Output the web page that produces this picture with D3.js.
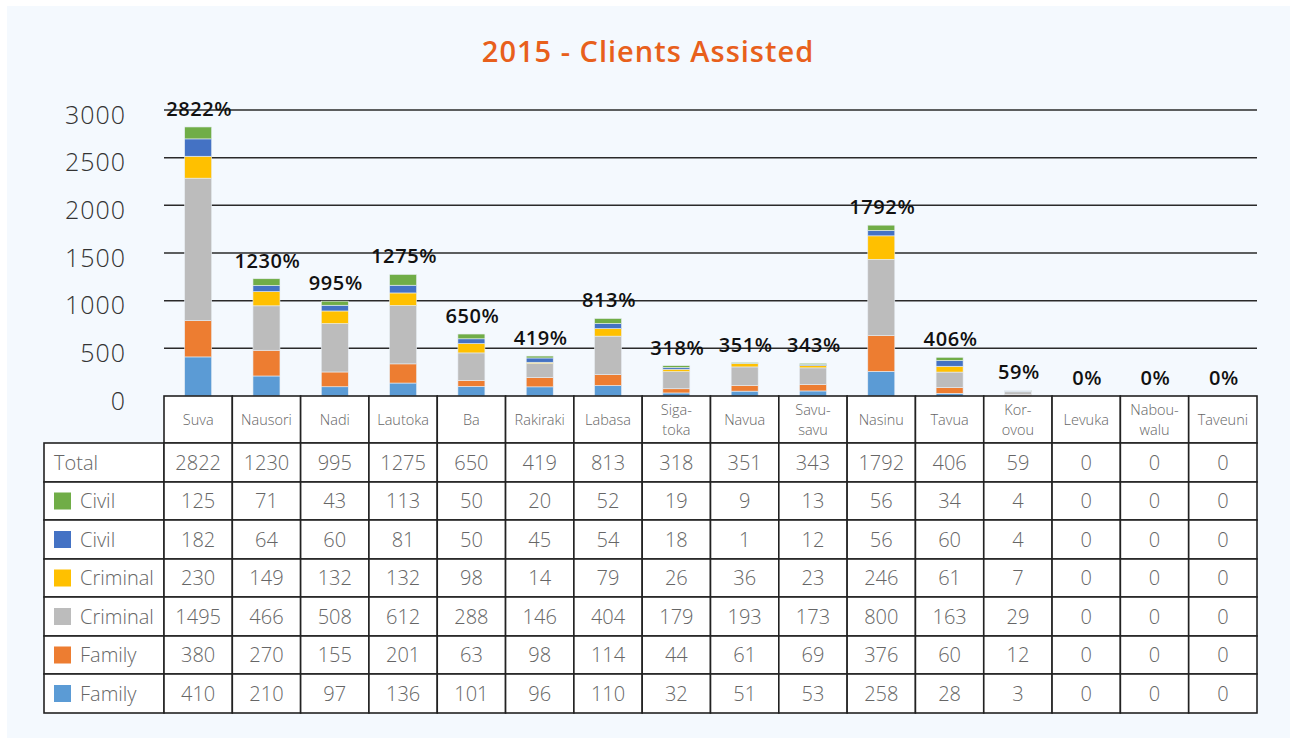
<!DOCTYPE html>
<html><head><meta charset="utf-8">
<script src="https://cdn.jsdelivr.net/npm/d3@7"></script>
<style>
html,body{margin:0;padding:0;background:#fff;}
svg{display:block;}
</style></head>
<body>
<svg id="chart" width="1290" height="738"></svg>
<script>
const title = "2015 - Clients Assisted";
const categories = ["Suva","Nausori","Nadi","Lautoka","Ba","Rakiraki","Labasa","Siga-toka","Navua","Savu-savu","Nasinu","Tavua","Kor-ovou","Levuka","Nabou-walu","Taveuni"];
const totals       = [2822,1230,995,1275,650,419,813,318,351,343,1792,406,59,0,0,0];
const civilGreen   = [125,71,43,113,50,20,52,19,9,13,56,34,4,0,0,0];
const civilBlue    = [182,64,60,81,50,45,54,18,1,12,56,60,4,0,0,0];
const criminalYel  = [230,149,132,132,98,14,79,26,36,23,246,61,7,0,0,0];
const criminalGray = [1495,466,508,612,288,146,404,179,193,173,800,163,29,0,0,0];
const familyOrange = [380,270,155,201,63,98,114,44,61,69,376,60,12,0,0,0];
const familyBlue   = [410,210,97,136,101,96,110,32,51,53,258,28,3,0,0,0];
const seriesNames  = ["Civil","Civil","Criminal","Criminal","Family","Family"];
const seriesColors = ["#70ad47","#4472c4","#ffc000","#bcbcbc","#ed7d31","#5b9bd5"];
const yTicks = [0,500,1000,1500,2000,2500,3000];

const tableSeries = [civilGreen,civilBlue,criminalYel,criminalGray,familyOrange,familyBlue];
const stackOrder = [5,4,3,2,1,0];

const svg = d3.select("#chart");
const W=1290,H=738;
svg.append("rect").attr("width",W).attr("height",H).attr("fill","#ffffff");
svg.append("rect").attr("x",7).attr("y",6).attr("width",W-7).attr("height",H-6).attr("fill","#f4f9fe");

const font = "'Open Sans', sans-serif";
const x0=164,x1=1257, yTop=110, yBase=396;
const x = d3.scaleBand().domain(categories).range([x0,x1]).padding(0);
const y = d3.scaleLinear().domain([0,3000]).range([yBase,yTop]);

svg.append("text").attr("x",648).attr("y",62).attr("text-anchor","middle")
  .attr("font-family",font).attr("font-weight",600).attr("font-size",29)
  .attr("letter-spacing",1).attr("fill","#e8601c").text(title);

svg.append("g").selectAll("line").data(yTicks.filter(d=>d>0)).join("line")
  .attr("x1",x0).attr("x2",x1).attr("y1",d=>y(d)).attr("y2",d=>y(d))
  .attr("stroke","#2a2a2a").attr("stroke-width",1.5);

const yAxis = d3.axisLeft(y).tickValues(yTicks).tickFormat(d3.format("d")).tickSize(0).tickPadding(0);
const ya = svg.append("g").attr("transform","translate(126,5)").call(yAxis);
ya.select(".domain").remove();
ya.selectAll("text").attr("font-family",font).attr("font-weight",300)
  .attr("font-size",25).attr("letter-spacing",1).attr("fill","#333").attr("dy","0.32em");

const bw = 27;
categories.forEach((c,i)=>{
  let acc=0;
  stackOrder.forEach(s=>{
    const v=tableSeries[s][i];
    if(v>0){
      svg.append("rect").attr("x",x(c)+x.bandwidth()/2-bw/2).attr("width",bw)
        .attr("y",y(acc+v)).attr("height",y(acc)-y(acc+v))
        .attr("fill",seriesColors[s]).attr("stroke","#e8eef4").attr("stroke-width",0.6);
    }
    acc+=v;
  });
});

svg.append("g").selectAll("text").data(categories).join("text")
  .attr("x",c=>x(c)+x.bandwidth()/2+1)
  .attr("y",(c,i)=>y(totals[i])-11)
  .attr("text-anchor","middle").attr("font-family",font).attr("font-weight",600)
  .attr("font-size",20).attr("letter-spacing",0.6).attr("fill","#111")
  .text((c,i)=>totals[i]+"%");

const rowY=[396,443,482,520,559,597,636,674,713];
const tl=44;
const tg=svg.append("g");
categories.forEach((c,i)=>{
  tg.append("rect").attr("x",x(c)).attr("y",rowY[0]).attr("width",x.bandwidth()).attr("height",rowY[1]-rowY[0])
    .attr("fill","#fff").attr("stroke","#222").attr("stroke-width",1.6);
  const parts=c.split("-");
  const t=tg.append("text").attr("text-anchor","middle").attr("font-family",font).attr("font-weight",300)
    .attr("font-size",14.5).attr("fill","#666");
  if(parts.length===1){
    t.append("tspan").attr("x",x(c)+x.bandwidth()/2).attr("y",(rowY[0]+rowY[1])/2+5).text(c);
  } else {
    t.append("tspan").attr("x",x(c)+x.bandwidth()/2).attr("y",(rowY[0]+rowY[1])/2-5).text(parts[0]+"-");
    t.append("tspan").attr("x",x(c)+x.bandwidth()/2).attr("y",(rowY[0]+rowY[1])/2+15).text(parts[1]);
  }
});
const rows=[{name:"Total",vals:totals,color:null}].concat(tableSeries.map((s,k)=>({name:seriesNames[k],vals:s,color:seriesColors[k]})));
rows.forEach((r,k)=>{
  const top=rowY[k+1],bot=rowY[k+2],mid=(top+bot)/2;
  tg.append("rect").attr("x",tl).attr("y",top).attr("width",x0-tl).attr("height",bot-top)
    .attr("fill","#fff").attr("stroke","#222").attr("stroke-width",1.6);
  if(r.color){
    tg.append("rect").attr("x",54).attr("y",mid-8.5).attr("width",17).attr("height",17).attr("fill",r.color);
  }
  tg.append("text").attr("x",r.color?80:54).attr("y",mid+7).attr("font-family",font).attr("font-weight",300)
    .attr("font-size",20).attr("fill","#666").text(r.name);
  categories.forEach((c,i)=>{
    tg.append("rect").attr("x",x(c)).attr("y",top).attr("width",x.bandwidth()).attr("height",bot-top)
      .attr("fill","#fff").attr("stroke","#222").attr("stroke-width",1.6);
    tg.append("text").attr("x",x(c)+x.bandwidth()/2).attr("y",mid+7).attr("text-anchor","middle")
      .attr("font-family",font).attr("font-weight",300).attr("font-size",20).attr("fill","#666").text(r.vals[i]);
  });
});
</script>
</body></html>
